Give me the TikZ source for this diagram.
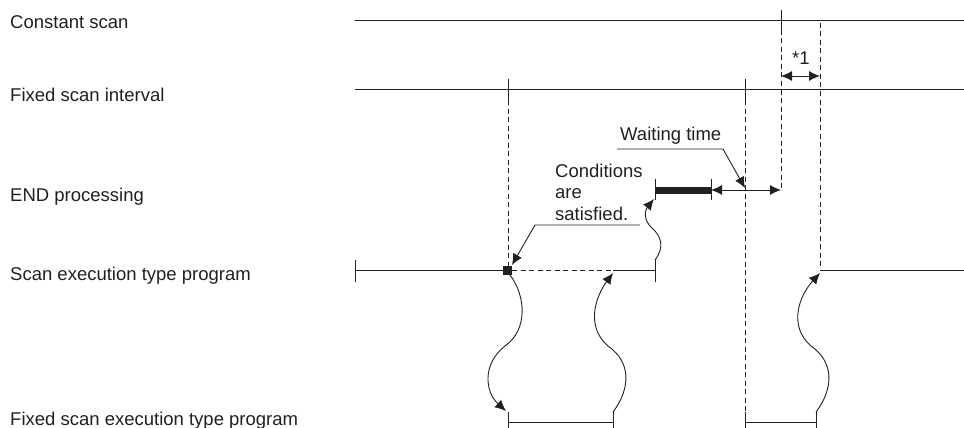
\documentclass[tikz,border=0pt]{standalone}
\usepackage{fontspec}
\setmainfont{Liberation Sans}
\usetikzlibrary{arrows.meta}
\definecolor{ink}{RGB}{35,31,32}
\begin{document}
\begin{tikzpicture}[x=1pt,y=-1pt,
  line/.style={draw=ink,line width=0.9pt},
  dashline/.style={draw=ink,line width=0.9pt,dash pattern=on 5pt off 3.5pt},
  lbl/.style={anchor=base west,inner sep=0pt,text=ink,font=\fontsize{18.5}{22}\selectfont},
  tip/.style={-{Latex[length=11pt,width=10pt]}},
  dtip/.style={{Latex[length=11pt,width=10pt]}-{Latex[length=11pt,width=10pt]}}
]
\useasboundingbox (0,0) rectangle (964,428);
% labels
\node[lbl] (l1) at (10,29) {Constant scan};
\node[lbl] (l2) at (10,102) {Fixed scan interval};
\node[lbl] (l3) at (10,201) {END processing};
\node[lbl] (l4) at (10,280.5) {Scan execution type program};
\node[lbl] (l5) at (10,425) {Fixed scan execution type program};
% constant scan
\draw[line] (355,20) -- (964,20);
\draw[line] (781,10) -- (781,30);
% fixed scan interval
\draw[line] (355,89) -- (964,89);
\draw[line] (508,79) -- (508,100);
\draw[line] (745,79) -- (745,100);
% dashed verticals
\draw[dashline] (508,100) -- (508,266);
\draw[dashline] (745,100) -- (745,412);
\draw[dashline] (781,30) -- (781,190);
\draw[dashline] (820,23) -- (820,270);
% *1
\node[lbl] (s1) at (792,65) {*1};
\draw[line,dtip] (781,76) -- (820,76);
% END processing
\draw[draw=ink,line width=7pt] (655,190) -- (711,190);
\draw[line] (655,179) -- (655,200);
\draw[line] (711,179) -- (711,200);
\draw[line,dtip] (711,190) -- (781,190);
% waiting time
\node[lbl] (wt) at (620,140) {Waiting time};
\draw[line,tip] (617,149) -- (723,149) -- (745,188);
% conditions
\node[lbl] (c1) at (555,177) {Conditions};
\node[lbl] (c2) at (555,198.5) {are};
\node[lbl] (c3) at (555,220) {satisfied.};
\draw[line,tip] (640,225) -- (535,225) -- (512,265);
% scan execution row
\draw[line] (355,260) -- (355,282);
\draw[line] (355,270.5) -- (504,270.5);
\fill[ink] (503,266) rectangle (512,275);
\draw[dashline] (512,270.5) -- (613,270.5);
\draw[line] (613,270.5) -- (655,270.5);
\draw[line] (655,260) -- (655,282);
\draw[line] (820,270.5) -- (964,270.5);
% fixed scan execution row
\draw[line] (508,412) -- (508,428);
\draw[line] (508,422) -- (613,422);
\draw[line] (613,412) -- (613,428);
\draw[line] (745,412) -- (745,428);
\draw[line] (745,422) -- (816,422);
\draw[line] (816,412) -- (816,428);
% curves
\draw[line,tip] (510,275) .. controls (526,296) and (528,330) .. (505,346)
   .. controls (482,364) and (485,392) .. (506,411);
\draw[line,tip] (613,412) .. controls (631,388) and (631,362) .. (608,346)
   .. controls (585,326) and (596,296) .. (613,273);
\draw[line,tip] (816,412) .. controls (834,388) and (834,362) .. (811,346)
   .. controls (788,326) and (799,296) .. (820,273);
\draw[line,tip] (655,260) .. controls (665,247) and (661,236) .. (652,228)
   .. controls (643,220) and (645,210) .. (654,199);
\end{tikzpicture}
\end{document}
